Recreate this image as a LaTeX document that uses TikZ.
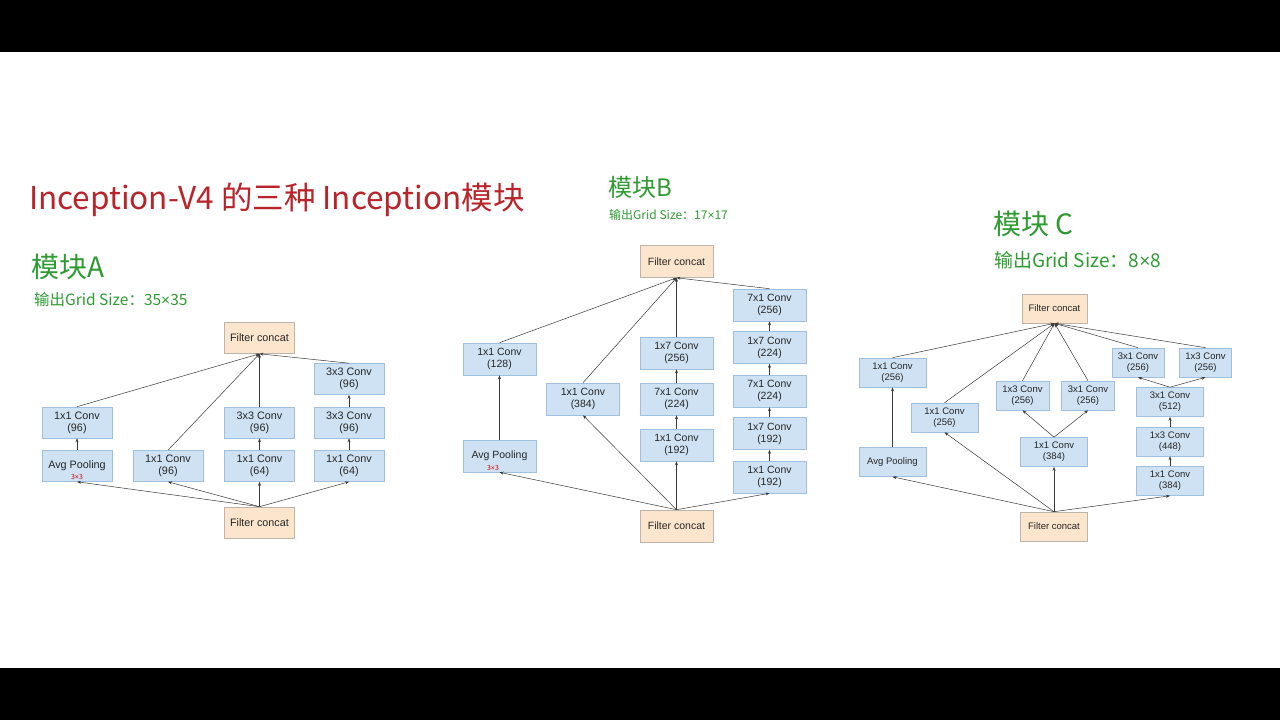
\documentclass[tikz,border=0pt]{standalone}
\usepackage{fontspec}
\setmainfont{Liberation Sans}
\newfontfamily\cjk{Noto Sans CJK SC}
\usetikzlibrary{arrows.meta}
\definecolor{convfill}{HTML}{CFE2F3}
\definecolor{convline}{HTML}{9FBFDF}
\definecolor{catfill}{HTML}{FCE5CD}
\definecolor{catline}{HTML}{BDB5AC}
\definecolor{titlered}{HTML}{B8242A}
\definecolor{handgreen}{HTML}{2E9B32}
\definecolor{wire}{HTML}{3A3A3A}
\newcommand{\tms}{{\rmfamily ×}}

\begin{document}
\begin{tikzpicture}[x=1pt, y=-1pt,
    every node/.style={font=\fontsize{10}{11.5}\selectfont, text=black!85},
    conv/.style={rectangle, draw=convline, fill=convfill, line width=0.6pt, inner sep=0pt, align=center},
    concat/.style={conv, draw=catline, fill=catfill},
    arr/.style={-{Stealth[length=4pt, width=3pt]}, draw=wire, line width=0.5pt},
    title/.style={font=\cjk\fontsize{31.5}{36}\selectfont, text=titlered, inner sep=0pt, anchor=west},
    hand/.style={font=\cjk\fontsize{28}{32}\selectfont, text=handgreen, inner sep=0pt, anchor=west},
    sub/.style={font=\cjk\fontsize{15.5}{17}\selectfont, text=handgreen, inner sep=0pt, anchor=west},
    note/.style={font=\cjk\fontsize{7}{8}\selectfont, text=red!80!black, inner sep=0pt}
]
\useasboundingbox (0,0) rectangle (1280,720);
\fill[white] (0,0) rectangle (1280,720);
\fill[black] (0,0) rectangle (1280,52);
\fill[black] (0,668) rectangle (1280,720);

% Titel und Ueberschriften
\node[title] (ttl) at (29,200) {Inception-V4 的三种 Inception模块};
\node[hand] (hA) at (31,267) {模块A};
\node[sub] (sA) at (34,300) {输出Grid Size：35\tms35};
\node[hand, font=\cjk\fontsize{24}{28}\selectfont] (hB) at (608,187) {模块B};
\node[sub, font=\cjk\fontsize{12}{14}\selectfont] (sB) at (609,215) {输出Grid Size：17\tms17};
\node[hand] (hC) at (993,224) {模块 C};
\node[sub, font=\cjk\fontsize{19}{21}\selectfont] (sC) at (994,260) {输出Grid Size：8\tms8};

% Modul A
\begin{scope}[conv/.append style={minimum width=70pt, minimum height=31pt, font=\fontsize{10.8}{12}\selectfont}]
\node[concat] (topA) at (259.5,338) {Filter concat};
\node[conv] (a4c) at (349,379) {3x3 Conv\\(96)};
\node[conv] (a1b) at (77,422.5) {1x1 Conv\\(96)};
\node[conv] (a3b) at (259.5,422.5) {3x3 Conv\\(96)};
\node[conv] (a4b) at (349,422.5) {3x3 Conv\\(96)};
\node[conv] (a1a) at (77,466) {Avg Pooling};
\node[conv] (a2a) at (168,466) {1x1 Conv\\(96)};
\node[conv] (a3a) at (259.5,466) {1x1 Conv\\(64)};
\node[conv] (a4a) at (349,466) {1x1 Conv\\(64)};
\node[concat] (botA) at (259.5,522.5) {Filter concat};
\node[note] (kA) at (77,476.5) {3\tms3};
\end{scope}
\foreach \n in {a1a,a2a,a3a,a4a}
    \draw[arr] (botA.north) -- (\n.south);
\draw[arr] (a1a) -- (a1b);
\draw[arr] (a3a) -- (a3b);
\draw[arr] (a4a) -- (a4b);
\draw[arr] (a4b) -- (a4c);
\foreach \n in {a1b,a2a,a3b,a4c}
    \draw[arr] (\n.north) -- (topA.south);

% Modul B
\begin{scope}[conv/.append style={minimum width=73pt, minimum height=32pt, font=\fontsize{10.5}{12}\selectfont}]
\node[concat] (topB) at (676.5,261.5) {Filter concat};
\node[conv] (b4e) at (769.5,305) {7x1 Conv\\(256)};
\node[conv] (b1b) at (499.5,359) {1x1 Conv\\(128)};
\node[conv] (b3c) at (676.5,353) {1x7 Conv\\(256)};
\node[conv] (b4d) at (769.5,347.5) {1x7 Conv\\(224)};
\node[conv] (b2a) at (583,399) {1x1 Conv\\(384)};
\node[conv] (b3b) at (676.5,399) {7x1 Conv\\(224)};
\node[conv] (b4c) at (769.5,391) {7x1 Conv\\(224)};
\node[conv] (b3a) at (676.5,445) {1x1 Conv\\(192)};
\node[conv] (b4b) at (769.5,433.5) {1x7 Conv\\(192)};
\node[conv] (b1a) at (499.5,456) {Avg Pooling};
\node[conv] (b4a) at (769.5,477) {1x1 Conv\\(192)};
\node[concat] (botB) at (676.5,526) {Filter concat};
\node[note] (kB) at (493,468) {3\tms3};
\end{scope}
\foreach \n in {b1a,b2a,b4a}
    \draw[arr] (botB.north) -- (\n.south);
\draw[arr, line width=0.9pt] (botB) -- (b3a);
\draw[arr] (b1a) -- (b1b);
\draw[arr] (b3a) -- (b3b);
\draw[arr] (b3b) -- (b3c);
\draw[arr] (b4a) -- (b4b);
\draw[arr] (b4b) -- (b4c);
\draw[arr] (b4c) -- (b4d);
\draw[arr] (b4d) -- (b4e);
\foreach \n in {b1b,b2a,b3c,b4e}
    \draw[arr] (\n.north) -- (topB.south);

% Modul C
\begin{scope}[conv/.append style={minimum width=67pt, minimum height=29pt, font=\fontsize{9.5}{11}\selectfont}]
\node[concat, minimum width=65pt] (topC) at (1054.5,308.5) {Filter concat};
\node[conv, minimum width=52pt] (c5) at (1138,362.5) {3x1 Conv\\(256)};
\node[conv, minimum width=52pt] (c6) at (1205.5,362.5) {1x3 Conv\\(256)};
\node[conv] (c1b) at (892.5,372.5) {1x1 Conv\\(256)};
\node[conv, minimum width=53pt] (c3b) at (1022.5,395.5) {1x3 Conv\\(256)};
\node[conv, minimum width=53pt] (c3c) at (1088,395.5) {3x1 Conv\\(256)};
\node[conv] (c4c) at (1170,402) {3x1 Conv\\(512)};
\node[conv] (c2a) at (944.5,417.5) {1x1 Conv\\(256)};
\node[conv] (c3a) at (1054,452) {1x1 Conv\\(384)};
\node[conv] (c4b) at (1170,441.5) {1x3 Conv\\(448)};
\node[conv] (c1a) at (892.5,462) {Avg Pooling};
\node[conv] (c4a) at (1170,481) {1x1 Conv\\(384)};
\node[concat] (botC) at (1054,526.5) {Filter concat};
\end{scope}
\foreach \n in {c1a,c2a,c4a}
    \draw[arr] (botC.north) -- (\n.south);
\draw[arr, line width=0.9pt] (botC) -- (c3a);
\draw[arr] (c1a) -- (c1b);
\draw[arr] (c3a.north) -- (c3b.south);
\draw[arr] (c3a.north) -- (c3c.south);
\draw[arr] (c4a) -- (c4b);
\draw[arr] (c4b) -- (c4c);
\draw[arr] (c4c.north) -- (c5.south);
\draw[arr] (c4c.north) -- (c6.south);
\foreach \n in {c1b,c2a,c3b,c3c,c5,c6}
    \draw[arr] (\n.north) -- (topC.south);

\end{tikzpicture}
\end{document}
